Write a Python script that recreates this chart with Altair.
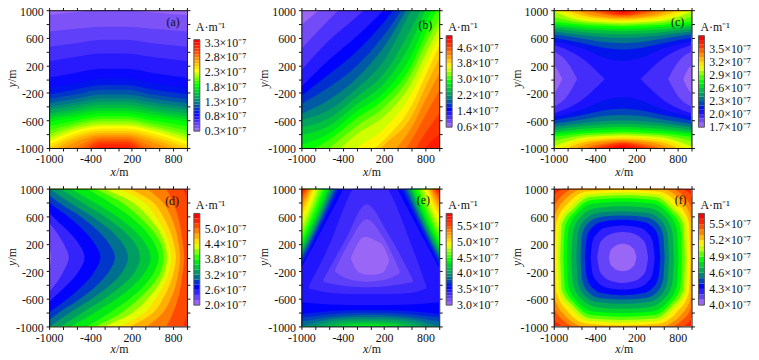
import altair as alt
import pandas as pd

FONT = "Liberation Serif"
STOPS = [0, 0.18, 0.31, 0.5, 0.667, 0.79, 0.9, 1]
COLORS = ["#9a66f5", "#0000ff", "#008080", "#00ff00", "#ffff00", "#ff9a00", "#ff3a00", "#ff0000"]
X_TICKS = [-1000, -800, -600, -400, -200, 0, 200, 400, 600, 800, 1000]
X_LABELS = [-1000, -400, 200, 800]
Y_LABELS = [-1000, -600, -200, 200, 600, 1000]

# ---- panel (a): boundary y of each level; columns = edge, x=+-600, x=+-200
A_X = [-1000, -620, -240, 120, 500, 1000]
A_LEVELS = [round(0.4 + 0.1 * i, 1) for i in range(30)]
A_ROWS = [[930, 970, 1005], [690, 730, 760], [470, 520, 570], [260, 320, 370], [20, 90, 150],
          [-130, -60, 10], [-220, -150, -85], [-290, -225, -155], [-350, -285, -225], [-405, -340, -280],
          [-450, -385, -328], [-495, -430, -372], [-540, -470, -418], [-580, -510, -458], [-620, -555, -500],
          [-680, -600, -540], [-745, -645, -578], [-800, -680, -612], [-850, -715, -650], [-900, -750, -682],
          [-950, -790, -718], [-1000, -830, -755], [-1060, -870, -785], [-1120, -915, -815], [-1180, -990, -845],
          [-1240, -1060, -875], [-1300, -1140, -910], [-1360, -1230, -945], [-1420, -1320, -985], [-1480, -1400, -1040]]

# ---- panel (b)
B_X = [-1000, -600, -200, 200, 600, 800, 1000]
B_ROWS = {
    0.8: [790, 1130, 1500, 1900, 2300, 2500, 2700],
    1.0: [440, 860, 1250, 1650, 2100, 2300, 2500],
    1.2: [127, 560, 900, 1300, 1800, 2100, 2300],
    1.4: [-113, 280, 620, 1010, 1500, 1800, 2000],
    1.6: [-240, 70, 400, 830, 1350, 1600, 1900],
    1.8: [-360, -120, 190, 640, 1220, 1500, 1850],
    2.0: [-506, -300, 10, 470, 1120, 1400, 1800],
    2.2: [-592, -450, -140, 270, 1000, 1300, 1700],
    2.4: [-700, -570, -260, 80, 750, 1150, 1600],
    2.6: [-810, -680, -370, -60, 550, 1010, 1500],
    2.8: [-950, -790, -470, -190, 350, 800, 1250],
    3.0: [-1100, -880, -570, -290, 210, 650, 1100],
    3.2: [-1250, -1000, -680, -410, 90, 510, 880],
    3.4: [-1450, -1150, -800, -540, -50, 360, 760],
    3.6: [-1700, -1300, -1000, -720, -210, 200, 620],
    3.8: [-1900, -1500, -1200, -880, -380, 50, 480],
    4.0: [-2100, -1700, -1400, -960, -540, -110, 300],
    4.2: [-2300, -1900, -1500, -1180, -700, -300, 80],
    4.4: [-2500, -2100, -1700, -1400, -880, -520, -170],
    4.6: [-2700, -2300, -1900, -1600, -1100, -780, -500],
    4.8: [-2900, -2500, -2100, -1800, -1350, -1000, -800],
    5.0: [-3100, -2700, -2300, -2000, -1650, -1250, -1000],
}

# ---- panel (c): top band boundaries; columns = edge, x=+-600, x=+-200, x=0
C_X = [-1000, -600, -200, 0, 200, 600, 1000]
C_ROWS = {
    2.1: [545, 450, 290, 265], 2.2: [600, 525, 445, 430], 2.3: [650, 590, 530, 520],
    2.4: [695, 640, 605, 600], 2.5: [735, 685, 655, 650], 2.6: [770, 725, 700, 695],
    2.7: [800, 760, 735, 730], 2.8: [835, 790, 770, 765], 2.9: [900, 820, 797, 790],
    3.0: [980, 850, 823, 815], 3.1: [1060, 885, 848, 840], 3.2: [1130, 925, 873, 865],
    3.3: [1210, 970, 895, 885], 3.4: [1300, 1030, 925, 905], 3.5: [1400, 1080, 950, 925],
    3.6: [1500, 1130, 980, 945], 3.7: [1600, 1200, 1020, 970],
}
# side lobes: level, x stations, half height
C_LOBES = [(2.0, [-1000, -600, -260], [500, 310, 0]),
           (1.9, [-1000, -800, -660], [400, 240, 0]),
           (1.8, [-1000, -940, -880], [210, 130, 0])]

# ---- panel (d): x of each level at y = 1000, 800, 600, 200, 0
D_Y = [-1000, -800, -600, -200, 0, 200, 600, 800, 1000]
D_ROWS = {
    5.2: [950, 1000, 1020, 1060, 1080], 5.0: [700, 800, 870, 940, 960], 4.8: [420, 650, 765, 880, 900],
    4.6: [180, 510, 650, 810, 840], 4.4: [20, 380, 540, 740, 770], 4.2: [-200, 210, 430, 680, 710],
    4.0: [-330, 50, 300, 620, 660], 3.8: [-450, -120, 170, 530, 590], 3.6: [-690, -340, -20, 400, 475],
    3.4: [-835, -520, -200, 250, 320], 3.2: [-990, -700, -380, 70, 145], 3.0: [-1110, -860, -550, -130, -45],
    2.8: [-1200, -1000, -730, -340, -255], 2.6: [-1350, -1150, -950, -570, -485],
    2.4: [-1500, -1300, -1090, -790, -715], 2.2: [-1700, -1500, -1200, -1010, -970],
}

# ---- panel (e)
# low centre, painted from outside in: level, x, upper, lower
E_LOW = [
    (3.5, [-1000, -600, 0, 600, 1000], [1000, 1000, 1000, 1000, 1000], [-650, -680, -690, -680, -650]),
    (3.4, [-895, -600, -250, 0, 250, 600, 815], [-420, 170, 1000, 1200, 1000, 170, -420], [-450, -510, -530, -530, -530, -510, -450]),
    (3.3, [-680, -350, -55, 250, 615], [-320, 280, 775, 360, -320], [-360, -415, -430, -415, -360]),
    (3.2, [-510, -300, -55, 180, 425], [-170, 230, 555, 300, -190], [-210, -320, -350, -330, -230]),
    (3.1, [-280, -200, -80, 60, 185, 270], [0, 170, 300, 255, 170, -30], [-20, -180, -245, -250, -215, -60]),
]
# upper corners: level -> y on side edge, y half way, x on top edge
E_CORNER = {
    3.5: [-150, 420, -390], 3.6: [-110, 430, -455], 3.7: [-50, 450, -490], 3.8: [-10, 470, -515],
    3.9: [20, 480, -535], 4.0: [55, 490, -560], 4.1: [90, 510, -580], 4.2: [125, 530, -595],
    4.3: [160, 540, -615], 4.4: [200, 560, -645], 4.5: [245, 590, -675], 4.6: [300, 620, -705],
    4.7: [365, 650, -740], 4.8: [440, 690, -770], 4.9: [530, 740, -800], 5.0: [600, 780, -820],
    5.1: [675, 820, -845], 5.2: [730, 850, -865], 5.3: [790, 880, -885], 5.4: [845, 915, -900],
    5.5: [890, 940, -925], 5.6: [930, 960, -950], 5.7: [970, 985, -975],
}
# bottom band: columns = edge, x=+-600, x=+-200, x=0
E_BOTTOM = {
    3.6: [-820, -780, -762, -760], 3.7: [-870, -825, -802, -800], 3.8: [-930, -865, -837, -835],
    3.9: [-1000, -900, -867, -865], 4.0: [-1080, -935, -897, -895], 4.1: [-1160, -975, -927, -925],
    4.2: [-1240, -1015, -952, -950], 4.3: [-1320, -1060, -978, -975], 4.4: [-1400, -1120, -1005, -1000],
}

# ---- panel (f): level -> half size on axis, p, q, half size on diagonal
F_ROWS = {
    5.5: [1100, 1085, 600, 950], 5.4: [1060, 1040, 580, 890], 5.3: [1020, 1000, 550, 840],
    5.2: [985, 960, 520, 790], 5.1: [945, 920, 500, 745], 5.0: [905, 880, 480, 710],
    4.9: [860, 835, 450, 680], 4.8: [810, 785, 420, 650], 4.7: [745, 720, 380, 600],
    4.6: [672, 650, 350, 550], 4.5: [610, 590, 320, 500], 4.4: [547, 520, 290, 440],
    4.3: [465, 435, 240, 360], 4.2: [370, 335, 190, 275], 4.1: [200, 175, 100, 141],
}

# ---- colour bars: lowest value, step, number of cells, labelled values
BARS = {
    "a": (0.3, 0.1, 31, [0.3, 0.8, 1.3, 1.8, 2.3, 2.8, 3.3]),
    "b": (0.6, 0.2, 23, [0.6, 1.4, 2.2, 3.0, 3.8, 4.6]),
    "c": (1.7, 0.1, 21, [1.7, 2.0, 2.3, 2.6, 2.9, 3.2, 3.5]),
    "d": (2.0, 0.2, 18, [2.0, 2.6, 3.2, 3.8, 4.4, 5.0]),
    "e": (3.0, 0.1, 29, [3.0, 3.5, 4.0, 4.5, 5.0, 5.5]),
    "f": (4.0, 0.1, 17, [4.0, 4.3, 4.6, 4.9, 5.2, 5.5]),
}
BAR_PX = {"a": (122, 29.7), "b": (118, 25.7), "c": (118, 25.7), "d": (117.5, 25), "e": (117.5, 25), "f": (117.5, 25)}
TAG_PX = {"a": (125, 12), "b": (125, 15), "c": (125, 12), "d": (124, 13), "e": (123, 12), "f": (128, 12)}

XS = alt.Scale(domain=[-1000, 1000], nice=False, zero=False)
YS = alt.Scale(domain=[-1000, 1000], nice=False, zero=False)


def frac(panel, z):
    lo, step, n, _ = BARS[panel]
    return round((z - lo) / step) / (n - 1)


class Regions:
    def __init__(self, panel):
        self.panel, self.rows, self.n = panel, [], 0

    def add(self, z, xs, ys, ys2):
        f = frac(self.panel, z)
        for a, b, c in zip(xs, ys, ys2):
            self.rows.append({"o": self.n, "f": f, "x": a, "y": b, "y2": c})
        self.n += 1

    def add_h(self, z, ys, xs, xs2):
        f = frac(self.panel, z)
        for a, b, c in zip(ys, xs, xs2):
            self.rows.append({"o": self.n, "f": f, "y": a, "x": b, "x2": c})
        self.n += 1

    def base(self, z):
        self.add(z, [-1000, 1000], [1000, 1000], [-1000, -1000])

    def frame(self):
        return pd.DataFrame(self.rows)


def fill_enc():
    return alt.Fill("f:Q", scale=alt.Scale(domain=STOPS, range=COLORS, interpolate="rgb"), legend=None)


def axis(orient, values, labels=None, offset=0):
    kw = dict(orient=orient, values=values, title=None, grid=False, domain=True, domainColor="#111", domainWidth=1,
              ticks=True, tickColor="#111", tickSize=3, tickWidth=1, zindex=1, labelOverlap=False, labelFlush=False,
              labelBound=False, labelFont=FONT, labelFontSize=12, labelColor="#111", labelPadding=3, labelOffset=offset)
    if labels is None:
        kw["labels"] = False
    else:
        kw["labelExpr"] = f"indexof({labels}, datum.value)>=0 ? ''+datum.value : ''"
    return alt.Axis(**kw)


def text(t, px, py, **kw):
    return alt.Chart(pd.DataFrame({"t": [t]})).mark_text(font=FONT, fontSize=kw.pop("fontSize", 12), color="#111", **kw).encode(
        text="t:N", x=alt.value(px), y=alt.value(py))


def panel(key, reg, horizontal=False, xlabel_y=163):
    df = reg.frame()
    x_ax = axis("bottom", X_TICKS, X_LABELS)
    y_ax = axis("left", X_TICKS, Y_LABELS, offset=1)
    if horizontal:
        main = alt.Chart(df).mark_area(clip=True, interpolate="monotone", orient="horizontal").encode(
            x=alt.X("x:Q", scale=XS, axis=x_ax, stack=None), x2="x2:Q",
            y=alt.Y("y:Q", scale=YS, axis=y_ax, stack=None),
            fill=fill_enc(), detail="o:N")
    else:
        main = alt.Chart(df).mark_area(clip=True, interpolate="monotone").encode(
            x=alt.X("x:Q", scale=XS, axis=x_ax, stack=None),
            y=alt.Y("y:Q", scale=YS, axis=y_ax, stack=None), y2="y2:Q",
            fill=fill_enc(), detail="o:N")
    frame = alt.Chart(pd.DataFrame({"x": [0], "y": [0]})).mark_point(opacity=0).encode(
        x=alt.X("x:Q", scale=XS, axis=axis("top", X_TICKS)),
        y=alt.Y("y:Q", scale=YS, axis=axis("right", X_TICKS)))

    lo, step, n, ticks = BARS[key]
    hi = round(lo + step * n, 1)
    bottom, top = BAR_PX[key]
    bs = alt.Scale(domain=[lo, hi], range=[bottom, top], nice=False, zero=False)
    cells = pd.DataFrame({"lo": [lo + step * i for i in range(n)], "hi": [lo + step * (i + 1) for i in range(n)],
                          "f": [i / (n - 1) for i in range(n)]})
    bar = alt.Chart(cells).mark_rect().encode(
        x=alt.value(146), x2=alt.value(152), y=alt.Y("lo:Q", scale=bs, axis=None), y2="hi:Q", fill=fill_enc())
    outline = alt.Chart(pd.DataFrame({"lo": [lo], "hi": [hi]})).mark_rect(fillOpacity=0, stroke="#555", strokeWidth=1).encode(
        x=alt.value(146), x2=alt.value(152), y=alt.Y("lo:Q", scale=bs, axis=None), y2="hi:Q")
    labs = alt.Chart(pd.DataFrame({"v": ticks, "t": [f"{v:.1f}×10⁻⁷" for v in ticks]})).mark_text(
        font=FONT, fontSize=12, color="#111", align="left", baseline="middle").encode(
        x=alt.value(157), y=alt.Y("v:Q", scale=bs, axis=None), text="t:N")

    tx, ty = TAG_PX[key]
    extras = [
        text(f"({key})", tx, ty, align="center", baseline="middle"),
        text("A·m⁻¹", 148, 17, align="left", baseline="middle"),
        text("x", 62, xlabel_y, align="left", baseline="middle", fontStyle="italic"),
        text("/m", 67.5, xlabel_y, align="left", baseline="middle"),
        text("y", -37.5, 78, align="left", baseline="middle", fontStyle="italic", angle=270),
        text("/m", -37.5, 72.5, align="left", baseline="middle", angle=270),
    ]
    return alt.layer(main, frame, bar, outline, labs, *extras).resolve_scale(
        x="independent", y="independent").properties(width=139, height=139)


# build regions -----------------------------------------------------------
ra = Regions("a")
ra.base(0.3)
for z, (e, m, c) in zip(A_LEVELS, A_ROWS):
    ys = [e, m, c, c, m, e]
    ra.add(z, A_X, ys, [-1000] * 6)

rb = Regions("b")
rb.base(0.6)
for z, ys in B_ROWS.items():
    rb.add(z, B_X, ys, [-1000] * 7)

rc = Regions("c")
rc.base(2.0)
for z, xs, hs in C_LOBES:
    zz = round(z - 0.1, 1)
    rc.add(zz, xs, hs, [-h for h in hs])
    rc.add(zz, [-x for x in xs][::-1], hs[::-1], [-h for h in hs][::-1])
for z, (e, m, p, c) in C_ROWS.items():
    ys = [e, m, p, c, p, m, e]
    rc.add(z, C_X, ys, [1000] * 7)
    rc.add(z, C_X, [-v for v in ys], [-1000] * 7)

rd = Regions("d")
rd.add_h(5.2, [-1000, 1000], [1000, 1000], [-1000, -1000])
for z, (t1, t2, t3, t4, t5) in D_ROWS.items():
    rd.add_h(round(z - 0.2, 1), D_Y, [t1, t2, t3, t4, t5, t4, t3, t2, t1], [-1000] * 9)

re_ = Regions("e")
re_.base(3.5)
for z, xs, up, low in E_LOW:
    re_.add(round(z - 0.1, 1), xs, up, low)
for z, (yl, ym, xt) in E_CORNER.items():
    xm = (xt - 1000) / 2
    re_.add(z, [-1000, xm, xt], [yl, ym, 1000], [1000, 1000, 1000])
    re_.add(z, [-xt, -xm, 1000], [1000, ym, yl], [1000, 1000, 1000])
for z, (e, m, p, c) in E_BOTTOM.items():
    re_.add(z, C_X, [e, m, p, c, p, m, e], [-1000] * 7)

rf = Regions("f")
rf.base(5.5)
for z, (a, p, q, c) in F_ROWS.items():
    xs = [-a, -p, -c, -q, 0, q, c, p, a]
    ys = [0, q, c, p, a, p, c, q, 0]
    rf.add(round(z - 0.1, 1), xs, ys, [-v for v in ys])

chart = alt.concat(
    panel("a", ra), panel("b", rb), panel("c", rc),
    panel("d", rd, True, 162), panel("e", re_, False, 162), panel("f", rf, False, 162),
    columns=3, spacing={"row": 41, "column": 115.5}, bounds="flush",
).properties(padding={"left": -2.5, "top": -4.3, "right": 0, "bottom": 0}).configure_view(stroke=None)
chart.save("out.html", embed_options={"renderer": "svg", "actions": False})
